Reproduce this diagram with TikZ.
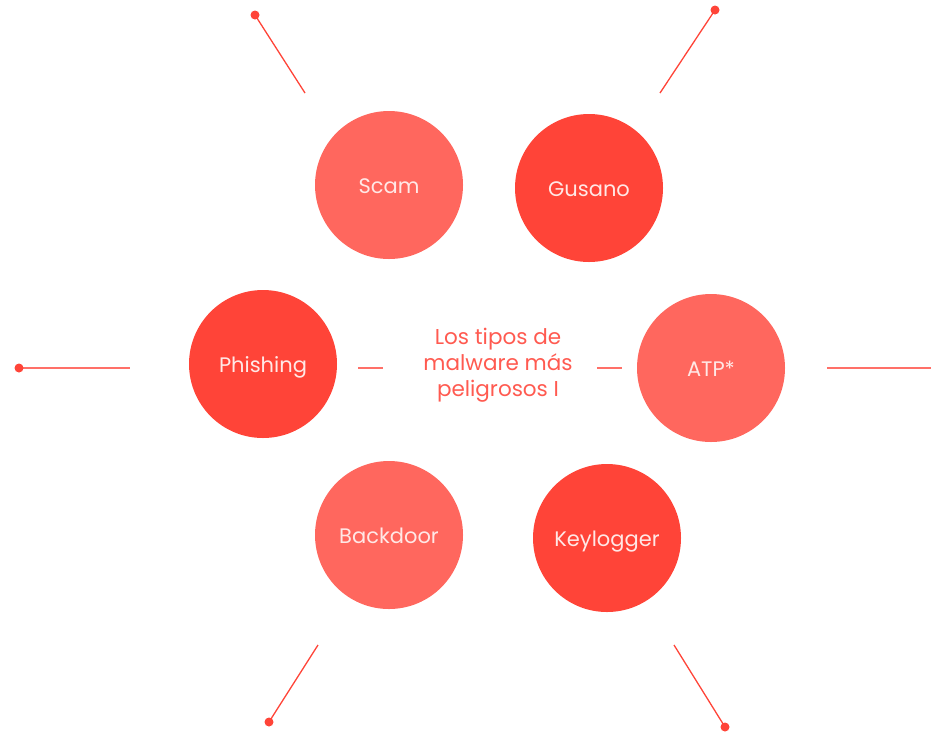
\documentclass[tikz,border=0pt]{standalone}
\usepackage{fontspec}
\setmainfont{Poppins}
\definecolor{redA}{HTML}{FF4438}
\definecolor{redB}{HTML}{FF675E}
\definecolor{redline}{HTML}{FF7068}
\definecolor{redtext}{HTML}{FF5A50}
\definecolor{paletext}{HTML}{FFE8E6}
\tikzset{
    bubble/.style={circle, minimum size=148pt, inner sep=0pt, text=paletext, text height=20pt, text depth=3pt, font=\fontsize{21}{23}\selectfont},
    ray/.style={line width=1.3pt, draw=redA},
    flat/.style={line width=2pt, draw=redline},
    tip/.style={fill=redA}
}
\begin{document}
\begin{tikzpicture}[x=1pt,y=-1pt]
    \useasboundingbox (0,0) rectangle (931,732);
    \node[bubble][fill=redB] (scam) at (389,185) {Scam};
    \node[bubble][fill=redA] (gusano) at (589,188) {Gusano};
    \node[bubble][fill=redA] (phishing) at (263,364) {Phishing};
    \node[bubble][fill=redB] (atp) at (711,368) {ATP*};
    \node[bubble][fill=redB] (backdoor) at (389,535) {Backdoor};
    \node[bubble][fill=redA] (keylogger) at (607,538) {Keylogger};
    \node[align=center, text=redtext, font=\fontsize{21.5}{26}\selectfont] (title) at (498,365) {Los tipos de\\malware más\\peligrosos I};
    % rays
    \coordinate (tl) at (255,15);   \coordinate (tlend) at (305,93);
    \coordinate (tr) at (715,10);   \coordinate (trend) at (660,93);
    \coordinate (bl) at (269,722);  \coordinate (blend) at (318,645);
    \coordinate (br) at (725,727);  \coordinate (brend) at (674,645);
    \coordinate (lt) at (19,368);   \coordinate (ltend) at (130,368);
    \coordinate (rt) at (931,368);  \coordinate (rtend) at (827,368);
    \draw[ray] (tl) -- (tlend);
    \draw[ray] (tr) -- (trend);
    \draw[ray] (bl) -- (blend);
    \draw[ray] (br) -- (brend);
    \draw[flat] (lt) -- (ltend);
    \draw[flat] (rtend) -- (rt);
    \foreach \p in {tl,tr,bl,br,lt}
        \fill[tip] (\p) circle (4.5pt);
    % short dashes beside the title
    \coordinate (da) at (358,368); \coordinate (db) at (383,368);
    \coordinate (dc) at (597,368); \coordinate (dd) at (622,368);
    \draw[flat] (da) -- (db);
    \draw[flat] (dc) -- (dd);
\end{tikzpicture}
\end{document}
